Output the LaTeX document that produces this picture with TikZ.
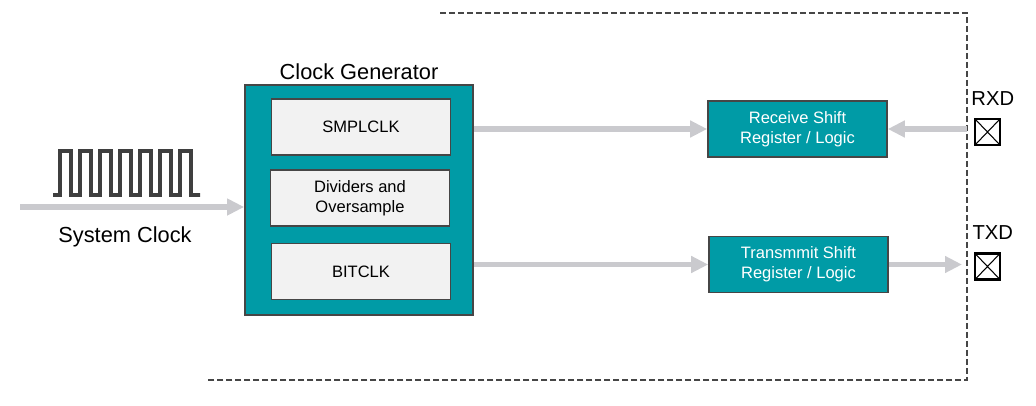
\documentclass[tikz,border=0pt]{standalone}
\usepackage{fontspec}
\setmainfont{Liberation Sans}
\usetikzlibrary{arrows.meta,positioning}
\definecolor{tealblk}{RGB}{0,155,166}
\definecolor{lgray}{RGB}{242,242,242}
\definecolor{agray}{RGB}{202,202,206}
\definecolor{dgray}{RGB}{70,70,70}
\tikzset{
  blk/.style={draw=dgray,line width=1pt,fill=tealblk,minimum width=4.56cm,minimum height=4.6cm},
  sub/.style={draw=dgray,line width=0.9pt,fill=lgray,minimum width=3.58cm,minimum height=1.12cm,
    align=center,inner sep=0pt,font=\fontsize{9.4}{11.3}\selectfont},
  logic/.style={draw=dgray,line width=0.9pt,fill=tealblk,text=white,minimum width=3.58cm,
    minimum height=1.12cm,align=center,inner sep=0pt,font=\fontsize{9.4}{11.3}\selectfont},
  pad/.style={draw,line width=1.4pt,minimum width=0.5cm,minimum height=0.52cm,inner sep=0pt,
    path picture={\draw[line width=0.6pt] (path picture bounding box.north west) -- (path picture bounding box.south east)
      (path picture bounding box.north east) -- (path picture bounding box.south west);}},
  gar/.style={draw=agray,line width=3.1pt,-{Triangle[length=0.34cm,width=0.32cm]}},
  bnd/.style={draw=dgray,line width=0.85pt,dash pattern=on 0.12cm off 0.06cm},
  lbl/.style={font=\fontsize{12.4}{14}\selectfont},
}
\begin{document}
\begin{tikzpicture}[x=0.02cm,y=-0.02cm]
  \useasboundingbox (0,0) rectangle (1036,406);
  \draw[bnd] (440,13) -- (967,13) -- (967,380) -- (208,380);

  \node[blk] (clkgen) at (359,200) {};
  \node[lbl,above=-1pt of clkgen] (cgtitle) {Clock Generator};
  \node[sub] (smpl) at (361,127) {SMPLCLK};
  \node[sub] (div) at (360,198) {Dividers and\\Oversample};
  \node[sub] (bit) at (361,271.5) {BITCLK};

  \node[logic] (rsr) at (797.5,129) {Receive Shift\\Register / Logic};
  \node[logic] (tsr) at (798.5,264.5) {Transmmit Shift\\Register / Logic};

  \node[pad] (rxd) at (987.5,132) {};
  \node[pad] (txd) at (987.5,266.5) {};
  \node[font=\fontsize{11.5}{13}\selectfont,above=3.5pt of rxd,xshift=3pt] (rxdl) {RXD};
  \node[font=\fontsize{11.5}{13}\selectfont,above=3.5pt of txd,xshift=3pt] (txdl) {TXD};

  \draw[dgray!90!black,line width=2.3pt] (53,195) -- (60,195)
    foreach \i in {1,...,7} { -- ++(0,-44) -- ++(11,0) -- ++(0,44) -- ++(9,0) } -- ++(-3,0);
  \coordinate (sysin) at (20,207);
  \node[lbl] (sysl) at (125,237) {System Clock};

  \coordinate (rxin) at (967,129);
  \coordinate (txout) at (962,264.5);
  \draw[gar] (sysin) -- (sysin -| clkgen.west);
  \draw[gar] (clkgen.east |- rsr.west) -- (rsr.west);
  \draw[gar] (clkgen.east |- tsr.west) -- (tsr.west);
  \draw[gar] (rxin) -- (rsr.east);
  \draw[gar] (tsr.east) -- (txout);
\end{tikzpicture}
\end{document}
